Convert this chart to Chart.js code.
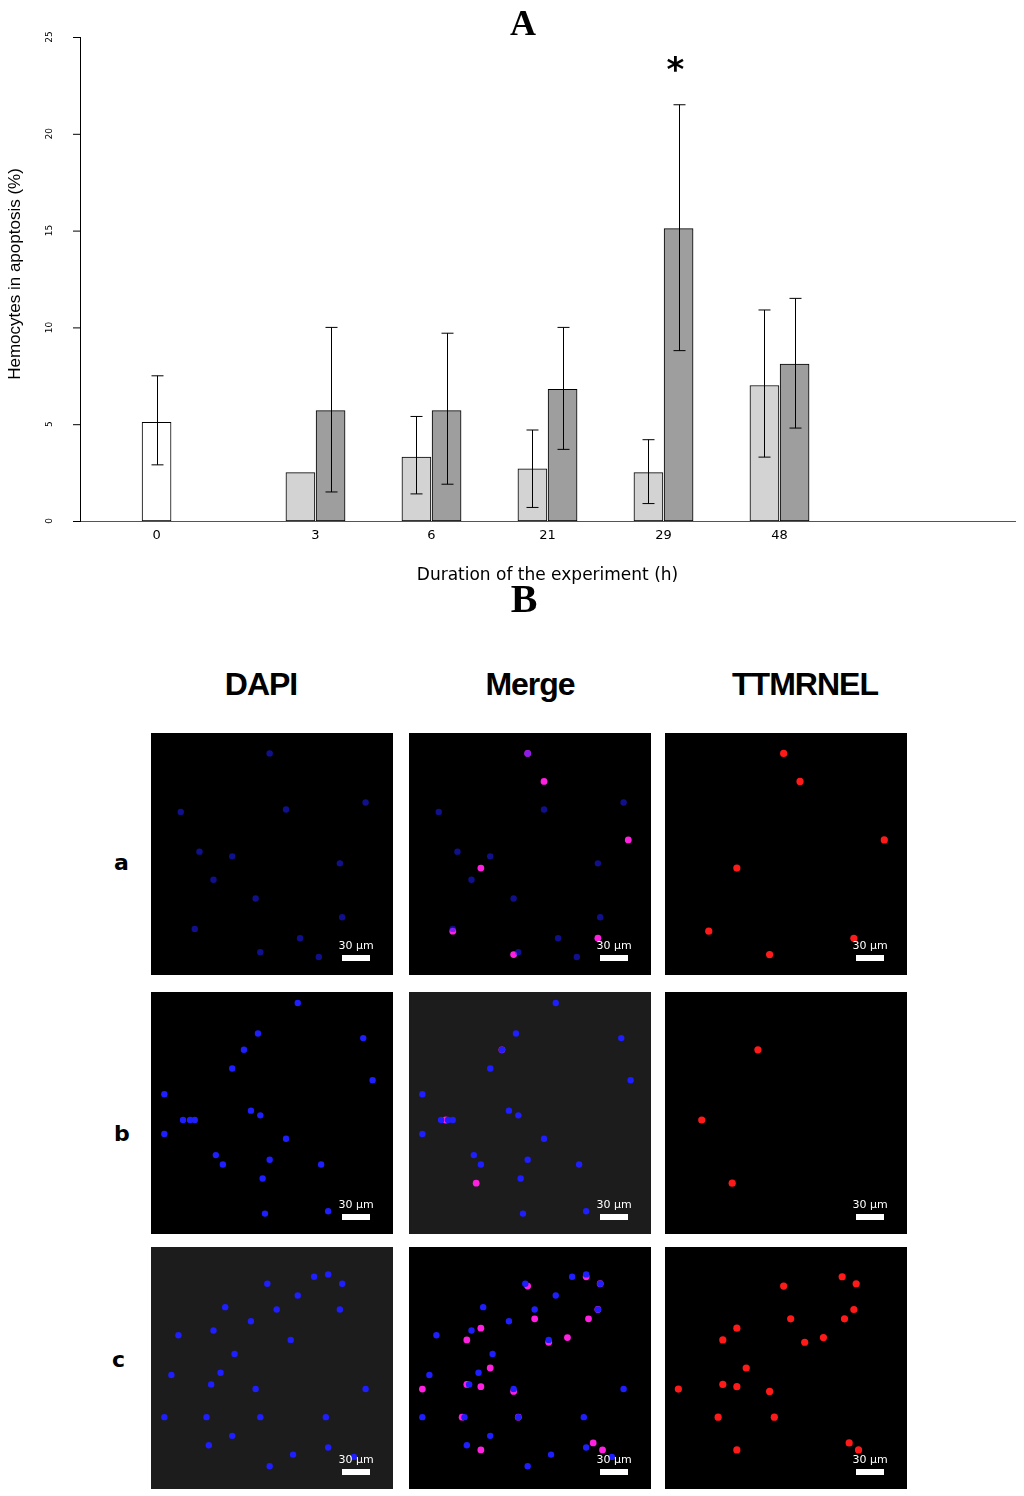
<!DOCTYPE html>
<html><head><meta charset="utf-8">
<script src="https://cdn.jsdelivr.net/npm/chart.js@4/dist/chart.umd.min.js"></script>
<style>
body{margin:0;background:#fff;width:1024px;height:1496px;position:relative;font-family:"Liberation Sans",Arial,sans-serif;overflow:hidden}
.abs{position:absolute}
.hdr{position:absolute;font-size:32px;font-weight:bold;letter-spacing:-1px;transform:translateX(-50%);font-family:"Liberation Sans",Arial,sans-serif}
.row{position:absolute;font-size:22px;font-weight:bold;font-family:"DejaVu Sans",sans-serif}
</style></head><body>
<div class="abs" style="left:0;top:0;width:1024px;height:590px"><canvas id="a"></canvas></div>
<div class="abs" style="left:12px;top:575px;width:1024px;text-align:center;font:bold 40px 'Liberation Serif',serif">B</div>
<div class="hdr" style="left:261px;top:666px">DAPI</div>
<div class="hdr" style="left:530px;top:666px">Merge</div>
<div class="hdr" style="left:805px;top:666px">TTMRNEL</div>
<div class="row" style="left:114px;top:850px">a</div>
<div class="row" style="left:114px;top:1121px">b</div>
<div class="row" style="left:112px;top:1347px">c</div>
<script>
// ---- Chart A data ----
const groups = ['0','3','6','21','29','48'];
const groupPos = [0, 1.37, 2.37, 3.37, 4.37, 5.37];
const controlValues = [5.1];
const controlLow = [2.9], controlHigh = [7.5];
const lightValues = [null, 2.5, 3.3, 2.7, 2.5, 7.0];
const lightLow =    [null, null, 1.4, 0.7, 0.9, 3.3];
const lightHigh =   [null, null, 5.4, 4.7, 4.2, 10.9];
const darkValues =  [null, 5.7, 5.7, 6.8, 15.1, 8.1];
const darkLow =     [null, 1.5, 1.9, 3.7, 8.8, 4.8];
const darkHigh =    [null, 10.0, 9.7, 10.0, 21.5, 11.5];
const yTicks = [0,5,10,15,20,25];
const OFF = 0.13;

const mk = (vals, lo, hi, dx) => vals.map((v,i)=> v==null?null:{x:groupPos[i]+dx, y:v, lo:lo[i], hi:hi[i]}).filter(p=>p);

const errPlugin = {id:'err', afterDatasetsDraw(c){
  const ctx=c.ctx, xs=c.scales.x, ys=c.scales.y;
  ctx.save(); ctx.strokeStyle='#000'; ctx.lineWidth=1;
  c.data.datasets.forEach(ds=>ds.data.forEach(p=>{
    if(p.lo==null) return;
    const x=Math.round(xs.getPixelForValue(p.x))+0.5, y1=ys.getPixelForValue(p.lo), y2=ys.getPixelForValue(p.hi);
    ctx.beginPath(); ctx.moveTo(x,y1); ctx.lineTo(x,y2);
    ctx.moveTo(x-6,y1); ctx.lineTo(x+6,y1); ctx.moveTo(x-6,y2); ctx.lineTo(x+6,y2); ctx.stroke();
  }));
  ctx.fillStyle='#000'; ctx.font='9px "DejaVu Sans"'; ctx.textAlign='center'; ctx.textBaseline='middle';
  yTicks.forEach(t=>{const y=ys.getPixelForValue(t); ctx.save(); ctx.translate(50,y); ctx.rotate(-Math.PI/2); ctx.fillText(String(t),0,0); ctx.restore();
    ctx.beginPath(); ctx.moveTo(ys.right-7,y+0.5); ctx.lineTo(ys.right,y+0.5); ctx.stroke();});
  ctx.save(); ctx.translate(15,(ys.top+ys.bottom)/2-5); ctx.rotate(-Math.PI/2);
  ctx.font='17px "Liberation Sans Narrow","Liberation Sans"'; ctx.fillText('Hemocytes in apoptosis (%)',0,0); ctx.restore();
  ctx.font='bold 36px "Liberation Serif"'; ctx.fillText('A',523,26);
  ctx.font='bold 34px "DejaVu Sans"'; ctx.fillText('*',xs.getPixelForValue(groupPos[4])+12,ys.getPixelForValue(23.2));
  ctx.restore();
}};

new Chart(document.getElementById('a'),{
  type:'bar',
  data:{datasets:[
    {data:mk(controlValues,controlLow,controlHigh,0),backgroundColor:'#fff',borderColor:'#000',borderWidth:1},
    {data:mk(lightValues,lightLow,lightHigh,-OFF),backgroundColor:'#d3d3d3',borderColor:'#000',borderWidth:1},
    {data:mk(darkValues,darkLow,darkHigh,OFF),backgroundColor:'#9e9e9e',borderColor:'#000',borderWidth:1}
  ]},
  options:{animation:false,responsive:true,maintainAspectRatio:false,
    datasets:{bar:{grouped:false,barThickness:29,borderSkipped:false}},
    layout:{padding:{top:37,right:9,left:0,bottom:0}},
    plugins:{legend:{display:false},tooltip:{enabled:false}},
    scales:{
      x:{type:'linear',offset:false,min:-0.66,max:7.4,grid:{display:false,drawTicks:false},border:{color:'#555'},
        afterBuildTicks(s){s.ticks=groupPos.map(v=>({value:v}));},
        afterFit(s){s.height=69;},
        ticks:{autoSkip:false,maxRotation:0,padding:7,color:'#000',font:{size:13,family:'DejaVu Sans'},callback:(v,i)=>groups[i]},
        title:{display:true,text:'Duration of the experiment (h)',color:'#000',font:{size:17,family:'DejaVu Sans'},padding:{top:2}}},
      y:{min:0,max:25,grid:{display:false},border:{color:'#000'},ticks:{display:false},afterFit(s){s.width=80;}}
    }},
  plugins:[errPlugin]
});

// ---- Panel B data (positions in % of panel, y from top) ----
const rowLabels = ['a','b','c'];
const bluePts = [
 [[49,7],[56,31],[19,49],[33,51],[43,69],[17,82],[62,86],[70,94],[79,54],[90,28],[25,61],[80,77],[45,92],[11,32]],
 [[38,23],[33,31],[4,42],[12,53],[15,53],[17,53],[41,49],[45,51],[56,61],[49,70],[26,68],[29,72],[89,18],[93,36],[71,72],[47,93],[74,92],[4,59],[61,3],[44,16],[46,78]],
 [[48,14],[68,11],[74,10],[80,14],[61,19],[30,24],[52,25],[79,25],[25,34],[41,30],[58,38],[10,36],[34,44],[28,52],[7,53],[24,57],[43,59],[45,71],[22,71],[4,71],[73,71],[90,59],[33,79],[23,83],[74,84],[59,87],[85,88],[49,92]]
];
const redPts = [
 [[49,7],[17,83],[79,86],[92,44],[43,93],[56,19],[29,56]],
 [[14,53],[38,23],[27,80]],
 [[74,11],[80,14],[49,15],[79,25],[52,29],[75,29],[66,37],[58,39],[29,33],[23,38],[33,50],[23,57],[29,58],[43,60],[4,59],[21,71],[45,71],[77,82],[29,85],[81,85]]
];
const colX = [151,409,665], rowY = [733,992,1247], SZ = 242;
const grayBg = {'1-1':true,'2-0':true};
const blueAlpha = [0.55,1,1];

function panel(r,c){
  const d=document.createElement('div'); d.className='abs';
  d.style.cssText=`left:${colX[c]}px;top:${rowY[r]}px;width:${SZ}px;height:${SZ}px`;
  const cv=document.createElement('canvas'); d.appendChild(cv); document.body.appendChild(d);
  const ds=[];
  const toXY=a=>a.map(p=>({x:p[0],y:p[1]}));
  if(c<2) ds.push({data:toXY(bluePts[r]),backgroundColor:`rgba(30,30,255,${blueAlpha[r]})`,pointRadius:3.2,borderWidth:0});
  if(c==1) ds.push({data:toXY(redPts[r]),backgroundColor:'#ff20e0',pointRadius:3.4,borderWidth:0});
  if(c==2) ds.push({data:toXY(redPts[r]),backgroundColor:'#ff1a1a',pointRadius:3.6,borderWidth:0});
  const bg=grayBg[r+'-'+c]?'#1c1c1c':'#000';
  new Chart(cv,{type:'scatter',data:{datasets:ds},
    options:{animation:false,responsive:true,maintainAspectRatio:false,layout:{padding:0},
      plugins:{legend:{display:false},tooltip:{enabled:false}},
      scales:{x:{display:false,min:0,max:100},y:{display:false,min:0,max:100,reverse:true}}},
    plugins:[{id:'bg',beforeDraw(ch){const x=ch.ctx;x.fillStyle=bg;x.fillRect(0,0,ch.width,ch.height);},
      afterDraw(ch){const x=ch.ctx;x.fillStyle='#fff';x.font='11px "DejaVu Sans"';x.textAlign='center';
        x.fillText('30 µm',205,216);x.fillRect(191,222,28,6);}}]
  });
}
for(let r=0;r<3;r++)for(let c=0;c<3;c++)panel(r,c);
</script></body></html>
